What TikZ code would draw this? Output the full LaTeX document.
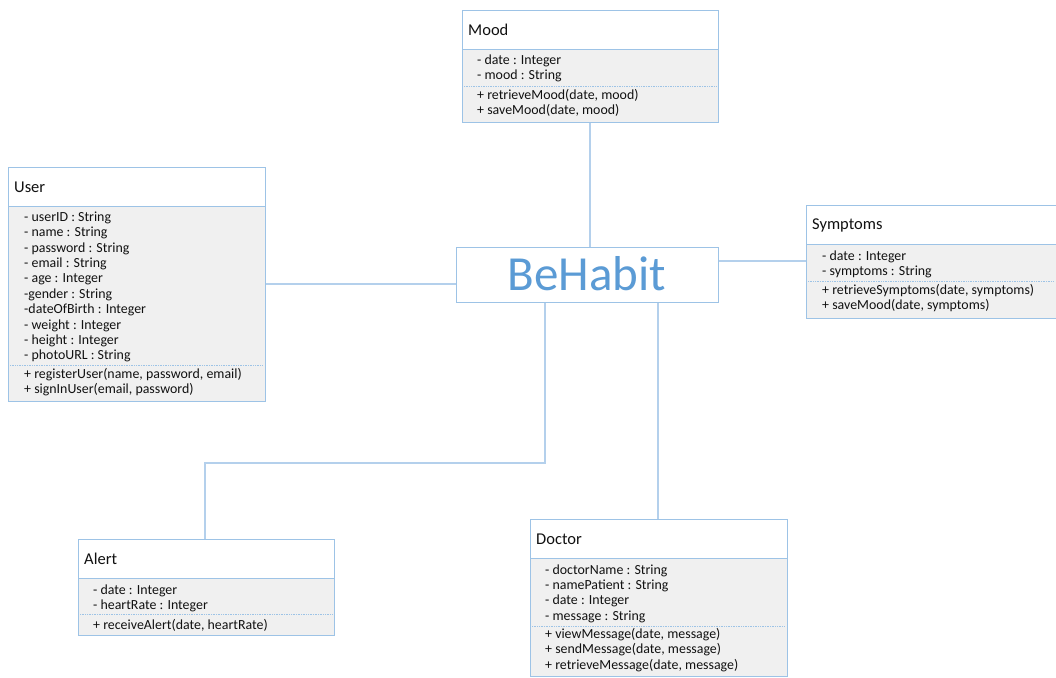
\documentclass[tikz,border=0pt]{standalone}
\usepackage{fontspec}
\setmainfont{Carlito}
\definecolor{edge}{HTML}{9DC3E6}
\definecolor{linkc}{HTML}{B4D0EC}
\definecolor{bodyfill}{HTML}{F0F0F0}
\definecolor{ink}{HTML}{111111}
\definecolor{brand}{HTML}{5B9BD5}
\tikzset{
  hdr/.style={draw=edge, line width=1.2pt, fill=white, anchor=north west, inner sep=0pt},
  bdy/.style={draw=edge, line width=1.2pt, fill=bodyfill, anchor=north west, inner sep=0pt},
  title/.style={anchor=west, text=ink, font=\fontsize{16.5}{18}\selectfont, inner sep=0pt},
  attr/.style={anchor=west, text=ink, font=\fontsize{13.9}{15}\selectfont, inner sep=0pt, yshift=-1pt},
  sepline/.style={draw=edge, line width=0.7pt, densely dotted},
  link/.style={draw=linkc, line width=1.5pt},
}
\begin{document}
\begin{tikzpicture}[x=1pt,y=-1pt]
\useasboundingbox (0,0) rectangle (1056,677);
% ---------- Mood
\node[bdy, minimum width=256pt, minimum height=112pt] (mood) at (462,10) {};
\node[hdr, minimum width=256pt, minimum height=39pt] (moodh) at (462,10) {};
\node[title] at (468,30) {Mood};
\node[attr] at (477,60) {- date : Integer};
\node[attr] at (477,75) {- mood : String};
\draw[sepline] (464,86) -- (716,86);
\node[attr] at (477,94) {+ retrieveMood(date, mood)};
\node[attr] at (477,109) {+ saveMood(date, mood)};
% ---------- User
\node[bdy, minimum width=257pt, minimum height=234pt] (user) at (8,167) {};
\node[hdr, minimum width=257pt, minimum height=39pt] (userh) at (8,167) {};
\node[title] at (14,187) {User};
\foreach \t [count=\i from 0] in {- userID : String, - name : String, - password : String, - email : String, - age : Integer, -gender : String, -dateOfBirth : Integer, - weight : Integer, - height : Integer, - photoURL : String}
  \node[attr] at (24,217+15.35*\i) {\t};
\draw[sepline] (10,365) -- (263,365);
\node[attr] at (24,374) {+ registerUser(name, password, email)};
\node[attr] at (24,389) {+ signInUser(email, password)};
% ---------- Symptoms
\node[bdy, minimum width=250pt, minimum height=113pt] (symp) at (806,205) {};
\node[hdr, minimum width=250pt, minimum height=39pt] (symph) at (806,205) {};
\node[title] at (812,225) {Symptoms};
\node[attr] at (822,256) {- date : Integer};
\node[attr] at (822,271) {- symptoms : String};
\draw[sepline] (808,281) -- (1054,281);
\node[attr] at (822,290) {+ retrieveSymptoms(date, symptoms)};
\node[attr] at (822,305) {+ saveMood(date, symptoms)};
% ---------- BeHabit
\node[draw=edge, line width=1.2pt, fill=white, minimum width=262pt, minimum height=55pt, anchor=north west, inner sep=0pt] (app) at (456,247) {};
\node[text=brand, font=\fontsize{49}{50}\selectfont, inner sep=0pt] (apptext) at (587,274) {BeHabit};
% ---------- Alert
\node[bdy, minimum width=256pt, minimum height=96pt] (alert) at (78,539) {};
\node[hdr, minimum width=256pt, minimum height=39pt] (alerth) at (78,539) {};
\node[title] at (84,559) {Alert};
\node[attr] at (93,590) {- date : Integer};
\node[attr] at (93,605) {- heartRate : Integer};
\draw[sepline] (80,614) -- (332,614);
\node[attr] at (93,624) {+ receiveAlert(date, heartRate)};
% ---------- Doctor
\node[bdy, minimum width=257pt, minimum height=157pt] (doc) at (530,519) {};
\node[hdr, minimum width=257pt, minimum height=39pt] (doch) at (530,519) {};
\node[title] at (536,539) {Doctor};
\node[attr] at (545,570) {- doctorName : String};
\node[attr] at (545,585) {- namePatient : String};
\node[attr] at (545,600) {- date : Integer};
\node[attr] at (545,616) {- message : String};
\draw[sepline] (532,626) -- (785,626);
\node[attr] at (545,634) {+ viewMessage(date, message)};
\node[attr] at (545,649) {+ sendMessage(date, message)};
\node[attr] at (545,665) {+ retrieveMessage(date, message)};
% ---------- connectors
\draw[link] (mood.south -| 590,0) -- (app.north -| 590,0);
\draw[link] (user.east |- 0,284) -- (app.west |- 0,284);
\draw[link] (symp.west |- 0,261) -- (app.east |- 0,261);
\coordinate (bend1) at (545,463);
\coordinate (bend2) at (205,463);
\draw[link] (app.south -| bend1) -- (bend1) -- (bend2) -- (alerth.north -| bend2);
\draw[link] (app.south -| 658,0) -- (doch.north -| 658,0);
\end{tikzpicture}
\end{document}
